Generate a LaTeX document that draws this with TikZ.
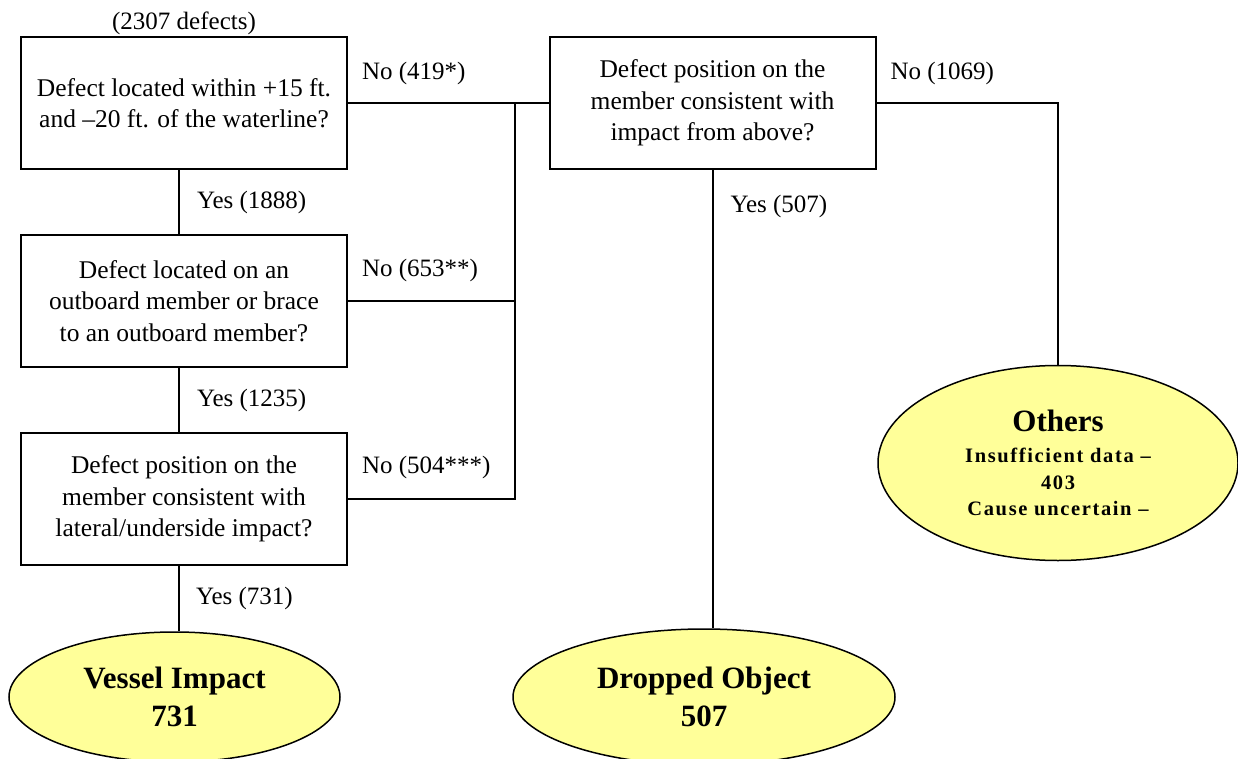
\documentclass[tikz,border=0pt]{standalone}
\usepackage{fontspec}
\setmainfont{Liberation Serif}
\newfontfamily\spacedbold[LetterSpace=8]{Liberation Serif}
\usetikzlibrary{shapes.geometric,positioning}
\definecolor{endfill}{HTML}{FFFF99}

\begin{document}
\begin{tikzpicture}[x=1pt,y=-1pt,
    qbox/.style={draw, line width=2pt, minimum width=326pt, minimum height=132pt, inner sep=0pt, align=center, font=\fontsize{25.5}{31.5}\selectfont},
    endbox/.style={ellipse, draw, line width=1.5pt, fill=endfill, inner sep=0pt, align=center, font=\bfseries\fontsize{31}{38.5}\selectfont},
    lbl/.style={inner sep=0pt, anchor=west, font=\fontsize{25}{30}\selectfont},
    wire/.style={line width=2pt}]

    \useasboundingbox (0,0) rectangle (1238,759);

    \node[qbox] (waterline) at (184,103) {Defect located within +15 ft.\\and –20 ft. of the waterline?};
    \node[qbox] (outboard) at (184,301) {Defect located on an\\outboard member or brace\\to an outboard member?};
    \node[qbox] (lateral) at (184,499) {Defect position on the\\member consistent with\\lateral/underside impact?};
    \node[qbox] (fromabove) at (712.5,103) {Defect position on the\\member consistent with\\impact from above?};

    \node[lbl, anchor=south, above=1pt of waterline] (total) {(2307 defects)};

    \node[endbox, minimum width=331pt, minimum height=130pt] (vessel) at (174.5,697) {Vessel Impact\\731};
    \node[endbox, minimum width=382pt, minimum height=136pt] (dropped) at (704,697) {Dropped Object\\507};
    \node[endbox, minimum width=360pt, minimum height=195pt, font=\bfseries\fontsize{20.5}{26.5}\selectfont] (others) at (1058,463)
        {{\fontsize{31}{31}\selectfont Others}\\[4.5pt]\spacedbold\bfseries Insufficient data –\\\spacedbold\bfseries 403\\\spacedbold\bfseries Cause uncertain –};

    \coordinate (spine) at (179,0);
    \coordinate (bus) at (515,0);

    \draw[wire] (waterline.south -| spine) -- node[lbl, right=17pt] {Yes (1888)} (outboard.north -| spine);
    \draw[wire] (outboard.south -| spine) -- node[lbl, right=17pt] {Yes (1235)} (lateral.north -| spine);
    \draw[wire] (lateral.south -| spine) -- node[lbl, right=16pt] {Yes (731)} (vessel.north -| spine);

    \draw[wire] (waterline.east) -- node[lbl, pos=0, xshift=13pt, yshift=30pt] {No (419*)} (fromabove.west);
    \draw[wire] (outboard.east) -- node[lbl, pos=0, xshift=13pt, yshift=31pt] {No (653**)} (outboard.east -| bus);
    \draw[wire] (lateral.east) -- node[lbl, pos=0, xshift=13pt, yshift=32pt] {No (504***)} (lateral.east -| bus) |- (waterline.east);

    \draw[wire] (fromabove.south) -- node[lbl, pos=0.08, right=17pt] {Yes (507)} (dropped.north -| fromabove.south);
    \draw[wire] (fromabove.east) -- node[lbl, pos=0, xshift=13pt, yshift=30pt] {No (1069)} (fromabove.east -| others.north) -- (others.north);
\end{tikzpicture}
\end{document}
